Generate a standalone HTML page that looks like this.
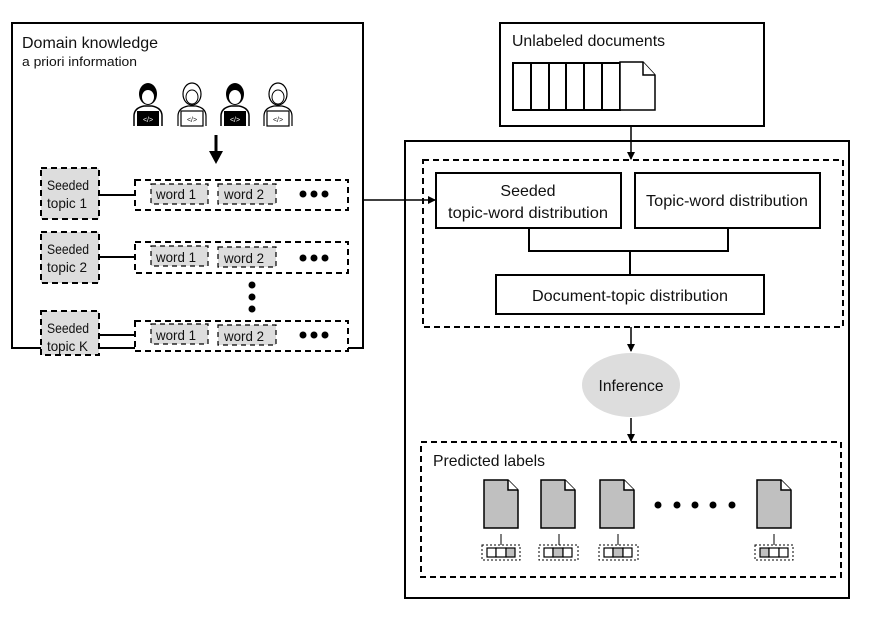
<!DOCTYPE html>
<html><head><meta charset="utf-8"><style>
html,body{margin:0;padding:0;background:#fff;}
svg{display:block;}
text{font-family:"Liberation Sans",sans-serif;fill:#111;}
</style></head><body>
<svg width="879" height="619" viewBox="0 0 879 619" xmlns="http://www.w3.org/2000/svg">
<defs>
<marker id="ah" markerWidth="8" markerHeight="8" refX="7" refY="4" orient="auto" markerUnits="userSpaceOnUse"><path d="M0,0 L8,4 L0,8 z" fill="#000"/></marker>
<g id="pd">
<path d="M-14,44 L-14,34 Q-14,26 -4,24 L4,24 Q14,26 14,34 L14,44" fill="none" stroke="#000" stroke-width="1.5"/>
<ellipse cx="0" cy="12" rx="9" ry="11" fill="#000"/>
<ellipse cx="0" cy="15" rx="6" ry="7" fill="#fff"/>
<rect x="-11" y="29" width="22" height="15" fill="#000"/>
<text x="0" y="40" font-size="7" text-anchor="middle" style="fill:#fff">&lt;/&gt;</text>
</g>
<g id="pl">
<path d="M-14,44 L-14,34 Q-14,26 -4,24 L4,24 Q14,26 14,34 L14,44" fill="none" stroke="#000" stroke-width="1.2"/>
<ellipse cx="0" cy="12" rx="9" ry="11" fill="#fff" stroke="#000" stroke-width="1.2"/>
<ellipse cx="0" cy="15" rx="6" ry="7" fill="#fff" stroke="#000" stroke-width="1"/>
<rect x="-11" y="29" width="22" height="15" fill="#fff" stroke="#000" stroke-width="1.2"/>
<text x="0" y="40" font-size="7" text-anchor="middle">&lt;/&gt;</text>
</g>
<g id="doc"><path d="M0,0 L24,0 L34,10 L34,48 L0,48 z" fill="#c0c0c0" stroke="#000" stroke-width="1.5"/><path d="M24,0 L24,10 L34,10" fill="#fff" stroke="#000" stroke-width="1.5"/></g>
</defs>

<!-- Left box -->
<rect x="12" y="23" width="351" height="325" fill="#fff" stroke="#000" stroke-width="2"/>
<text x="22" y="48" font-size="16">Domain knowledge</text>
<text x="22" y="66" font-size="13" textLength="115" lengthAdjust="spacingAndGlyphs">a priori information</text>
<use href="#pd" x="148" y="82"/>
<use href="#pl" x="192" y="82"/>
<use href="#pd" x="235" y="82"/>
<use href="#pl" x="278" y="82"/>
<line x1="216" y1="135" x2="216" y2="152" stroke="#000" stroke-width="3"/>
<path d="M209,151 L223,151 L216,164 z" fill="#000"/>

<g stroke="#000" stroke-width="2" stroke-dasharray="6,4">
<rect x="41" y="168" width="58" height="51" fill="#ddd"/>
<rect x="41" y="232" width="58" height="51" fill="#ddd"/>
<rect x="41" y="311" width="58" height="44" fill="#ddd"/>
<rect x="135" y="180" width="213" height="30" fill="#fff"/>
<rect x="135" y="242" width="213" height="31" fill="#fff"/>
<rect x="135" y="321" width="213" height="30" fill="#fff"/>
</g>
<g stroke="#000" stroke-width="1.2" stroke-dasharray="5,4" fill="#ddd">
<rect x="151" y="184" width="57" height="20"/><rect x="218" y="184" width="58" height="20"/>
<rect x="151" y="246" width="57" height="20"/><rect x="218" y="247" width="58" height="20"/>
<rect x="151" y="324" width="57" height="20"/><rect x="218" y="325" width="58" height="20"/>
</g>
<g stroke="#000" stroke-width="2">
<line x1="99" y1="195" x2="135" y2="195"/><line x1="99" y1="257" x2="135" y2="257"/><line x1="99" y1="335" x2="135" y2="335"/>
</g>
<g font-size="14">
<text x="47" y="190" textLength="42" lengthAdjust="spacingAndGlyphs">Seeded</text><text x="47" y="208" textLength="40" lengthAdjust="spacingAndGlyphs">topic 1</text>
<text x="47" y="254" textLength="42" lengthAdjust="spacingAndGlyphs">Seeded</text><text x="47" y="272" textLength="40" lengthAdjust="spacingAndGlyphs">topic 2</text>
<text x="47" y="333" textLength="42" lengthAdjust="spacingAndGlyphs">Seeded</text><text x="47" y="351" textLength="41" lengthAdjust="spacingAndGlyphs">topic K</text>
<text x="156" y="199" textLength="40" lengthAdjust="spacingAndGlyphs">word 1</text><text x="224" y="199" textLength="40" lengthAdjust="spacingAndGlyphs">word 2</text>
<text x="156" y="262" textLength="40" lengthAdjust="spacingAndGlyphs">word 1</text><text x="224" y="263" textLength="40" lengthAdjust="spacingAndGlyphs">word 2</text>
<text x="156" y="340" textLength="40" lengthAdjust="spacingAndGlyphs">word 1</text><text x="224" y="341" textLength="40" lengthAdjust="spacingAndGlyphs">word 2</text>
</g>
<g fill="#000">
<circle cx="303" cy="194" r="3.5"/><circle cx="314" cy="194" r="3.5"/><circle cx="325" cy="194" r="3.5"/>
<circle cx="303" cy="258" r="3.5"/><circle cx="314" cy="258" r="3.5"/><circle cx="325" cy="258" r="3.5"/>
<circle cx="303" cy="335" r="3.5"/><circle cx="314" cy="335" r="3.5"/><circle cx="325" cy="335" r="3.5"/>
<circle cx="252" cy="285" r="3.5"/><circle cx="252" cy="297" r="3.5"/><circle cx="252" cy="309" r="3.5"/>
</g>

<!-- Unlabeled docs -->
<rect x="500" y="23" width="264" height="103" fill="#fff" stroke="#000" stroke-width="2"/>
<text x="512" y="46" font-size="16" textLength="153" lengthAdjust="spacingAndGlyphs">Unlabeled documents</text>
<g fill="#fff" stroke="#000" stroke-width="2">
<rect x="513" y="63" width="18" height="47"/><rect x="531" y="63" width="18" height="47"/><rect x="549" y="63" width="17" height="47"/><rect x="566" y="63" width="18" height="47"/><rect x="584" y="63" width="18" height="47"/><rect x="602" y="63" width="18" height="47"/>
<path d="M620,62 L643,62 L655,75 L655,110 L620,110 z" stroke-width="1.5"/>
<path d="M643,62 L643,75 L655,75" stroke-width="1.5"/>
</g>

<!-- Big right box -->
<rect x="405" y="141" width="444" height="457" fill="none" stroke="#000" stroke-width="2"/>
<line x1="631" y1="126" x2="631" y2="159" stroke="#000" stroke-width="1.5" marker-end="url(#ah)"/>
<rect x="423" y="160" width="420" height="167" fill="none" stroke="#000" stroke-width="2" stroke-dasharray="6,4"/>
<line x1="363" y1="200" x2="435" y2="200" stroke="#000" stroke-width="1.5" marker-end="url(#ah)"/>
<rect x="436" y="173" width="185" height="55" fill="#fff" stroke="#000" stroke-width="2"/>
<rect x="635" y="173" width="185" height="55" fill="#fff" stroke="#000" stroke-width="2"/>
<text x="528" y="196" font-size="16" text-anchor="middle">Seeded</text>
<text x="528" y="218" font-size="16" text-anchor="middle" textLength="160" lengthAdjust="spacingAndGlyphs">topic-word distribution</text>
<text x="727" y="206" font-size="16" text-anchor="middle" textLength="162" lengthAdjust="spacingAndGlyphs">Topic-word distribution</text>
<path d="M529,228 L529,251 L728,251 L728,228 M630,251 L630,275" fill="none" stroke="#000" stroke-width="2"/>
<rect x="496" y="275" width="268" height="39" fill="#fff" stroke="#000" stroke-width="2"/>
<text x="630" y="301" font-size="16" text-anchor="middle" textLength="196" lengthAdjust="spacingAndGlyphs">Document-topic distribution</text>
<line x1="631" y1="327" x2="631" y2="351" stroke="#000" stroke-width="1.5" marker-end="url(#ah)"/>
<ellipse cx="631" cy="385" rx="49" ry="32" fill="#ddd"/>
<text x="631" y="391" font-size="16" text-anchor="middle" textLength="65" lengthAdjust="spacingAndGlyphs">Inference</text>
<line x1="631" y1="418" x2="631" y2="441" stroke="#000" stroke-width="1.5" marker-end="url(#ah)"/>

<rect x="421" y="442" width="420" height="135" fill="none" stroke="#000" stroke-width="2" stroke-dasharray="6,4"/>
<text x="433" y="466" font-size="16" textLength="112" lengthAdjust="spacingAndGlyphs">Predicted labels</text>
<use href="#doc" x="484" y="480"/>
<use href="#doc" x="541" y="480"/>
<use href="#doc" x="600" y="480"/>
<use href="#doc" x="757" y="480"/>
<g fill="#000"><circle cx="658" cy="505" r="3.5"/><circle cx="677" cy="505" r="3.5"/><circle cx="695" cy="505" r="3.5"/><circle cx="713" cy="505" r="3.5"/><circle cx="732" cy="505" r="3.5"/></g>
<g stroke="#000" stroke-width="1">
<line x1="501" y1="534" x2="501" y2="545"/><line x1="559" y1="534" x2="559" y2="545"/><line x1="618" y1="534" x2="618" y2="545"/><line x1="774" y1="534" x2="774" y2="545"/>
</g>
<g stroke="#000" stroke-width="1" stroke-dasharray="2,2" fill="none">
<rect x="482" y="545" width="38" height="15"/><rect x="539" y="545" width="39" height="15"/><rect x="599" y="545" width="39" height="15"/><rect x="755" y="545" width="38" height="15"/>
</g>
<g stroke="#000" stroke-width="1.2">
<rect x="487" y="548" width="9" height="9" fill="#fff"/><rect x="496" y="548" width="10" height="9" fill="#fff"/><rect x="506" y="548" width="9" height="9" fill="#c0c0c0"/>
<rect x="544" y="548" width="9" height="9" fill="#fff"/><rect x="553" y="548" width="10" height="9" fill="#c0c0c0"/><rect x="563" y="548" width="9" height="9" fill="#fff"/>
<rect x="604" y="548" width="9" height="9" fill="#fff"/><rect x="613" y="548" width="10" height="9" fill="#c0c0c0"/><rect x="623" y="548" width="9" height="9" fill="#fff"/>
<rect x="760" y="548" width="9" height="9" fill="#c0c0c0"/><rect x="769" y="548" width="10" height="9" fill="#fff"/><rect x="779" y="548" width="9" height="9" fill="#fff"/>
</g>
</svg>
</body></html>
